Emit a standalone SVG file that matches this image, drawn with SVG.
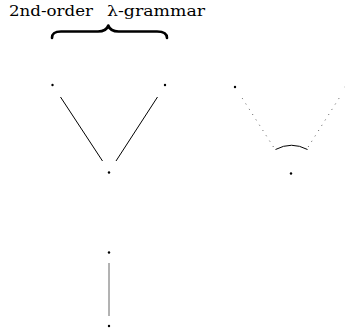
<svg xmlns="http://www.w3.org/2000/svg" width="345" height="330" viewBox="0 0 345 330">
<style>
.lbl{font-family:'DejaVu Serif','Liberation Serif',serif;font-size:15px;fill:#000}
.dot{fill:#000}
.solid{stroke:#000;stroke-width:1;fill:none}
.dotted{stroke:#333;stroke-width:0.9;fill:none;stroke-dasharray:0.9 5.4}
.brace{stroke:#000;stroke-width:2.6;fill:none;stroke-linecap:round;stroke-linejoin:round}
</style>
<rect width="345" height="330" fill="#fff"/>
<g id="title">
<text class="lbl" y="16"><tspan x="9" textLength="84" lengthAdjust="spacingAndGlyphs">2nd-order</tspan> <tspan x="107" textLength="98" lengthAdjust="spacingAndGlyphs">λ-grammar</tspan></text>
<path class="brace" d="M52,38 C52,33 55,31.5 61,31.5 L98,31.5 C104,31.5 107,29.5 108.3,25.5 C109.6,29.5 112.6,31.5 118.6,31.5 L157,31.5 C163,31.5 167,33 167,38"/>
</g>
<g id="n1"><circle class="dot" cx="52.5" cy="85" r="1.2"/></g>
<g id="n2"><circle class="dot" cx="165" cy="85" r="1.2"/></g>
<g id="n3"><circle class="dot" cx="109" cy="172.5" r="1.2"/></g>
<g id="n4"><circle class="dot" cx="235" cy="87" r="1.2"/></g>
<g id="n5"><circle class="dot" cx="346" cy="87" r="1.2"/></g>
<g id="n6"><circle class="dot" cx="291" cy="173.5" r="1.2"/></g>
<g id="n7"><circle class="dot" cx="109" cy="252.5" r="1.2"/></g>
<g id="n8"><circle class="dot" cx="109" cy="326" r="1.2"/></g>
<g id="connectors">
<line class="solid" x1="60.5" y1="97" x2="102.5" y2="161"/>
<line class="solid" x1="157.5" y1="97" x2="116" y2="161"/>
<line class="dotted" x1="242.3" y1="98.3" x2="273.5" y2="147"/>
<line class="dotted" x1="339" y1="98.3" x2="307.5" y2="148"/>
<path class="solid" d="M275.5,149.5 Q291.5,141 307.5,149.5"/>
<line x1="109" y1="263" x2="109" y2="316" stroke="#666" stroke-width="1"/>
</g>
</svg>
